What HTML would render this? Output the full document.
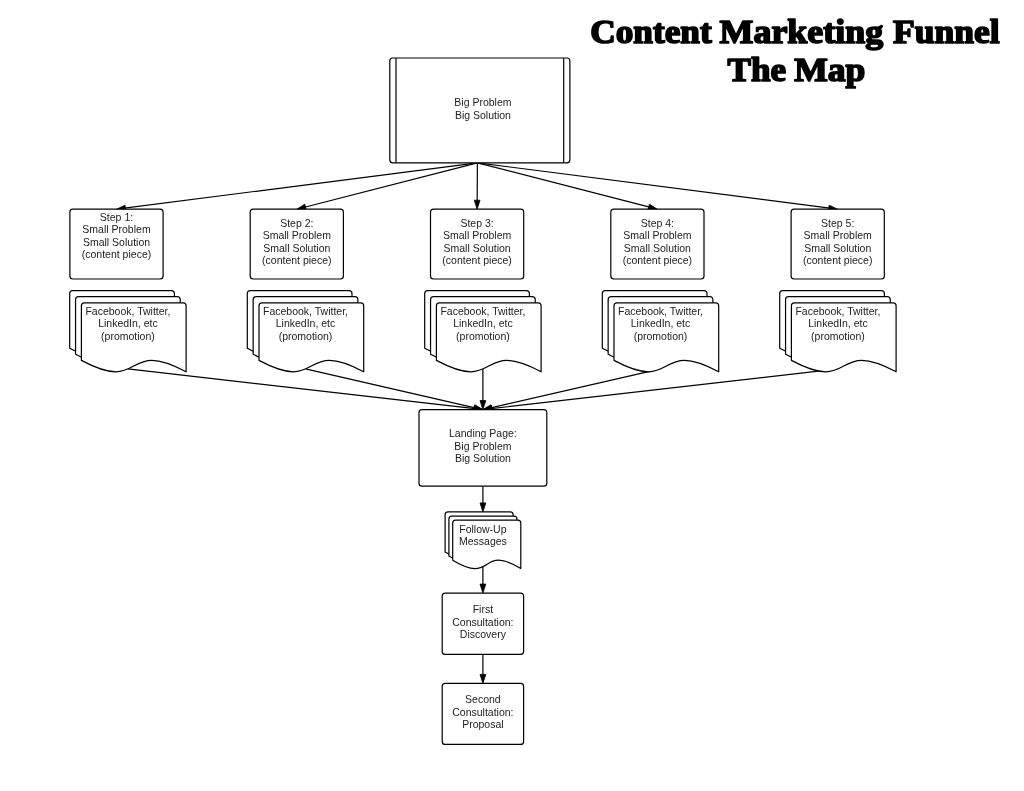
<!DOCTYPE html>
<html><head><meta charset="utf-8"><style>
html,body{margin:0;padding:0;background:#fff;width:1024px;height:791px;overflow:hidden}
svg{display:block;will-change:transform}
.t text{font-family:"Liberation Sans",sans-serif;font-size:10.5px;fill:#222}
.title{font-family:"Liberation Serif",serif;font-weight:bold;font-size:34px;fill:#000;stroke:#000;stroke-width:1.7px;stroke-linejoin:round}
</style></head><body>
<svg width="1024" height="791" viewBox="0 0 1024 791">
<g class="t">
<g>
<line x1="477.40" y1="162.80" x2="124.43" y2="208.18" stroke="#000" stroke-width="1.2"/>
<path d="M116.50,209.20 L125.06,205.18 L125.80,210.93 Z" fill="#000" stroke="#000" stroke-width="0.8" stroke-linejoin="miter"/>
<line x1="477.40" y1="162.80" x2="304.55" y2="207.21" stroke="#000" stroke-width="1.2"/>
<path d="M296.80,209.20 L304.80,204.15 L306.24,209.77 Z" fill="#000" stroke="#000" stroke-width="0.8" stroke-linejoin="miter"/>
<line x1="477.40" y1="162.80" x2="477.15" y2="201.20" stroke="#000" stroke-width="1.2"/>
<path d="M477.10,209.20 L474.26,200.18 L480.06,200.22 Z" fill="#000" stroke="#000" stroke-width="0.8" stroke-linejoin="miter"/>
<line x1="477.40" y1="162.80" x2="649.65" y2="207.20" stroke="#000" stroke-width="1.2"/>
<path d="M657.40,209.20 L647.96,209.76 L649.41,204.15 Z" fill="#000" stroke="#000" stroke-width="0.8" stroke-linejoin="miter"/>
<line x1="477.40" y1="162.80" x2="829.77" y2="208.18" stroke="#000" stroke-width="1.2"/>
<path d="M837.70,209.20 L828.40,210.93 L829.14,205.17 Z" fill="#000" stroke="#000" stroke-width="0.8" stroke-linejoin="miter"/>
<line x1="127.90" y1="368.80" x2="474.95" y2="408.69" stroke="#000" stroke-width="1.2"/>
<path d="M482.90,409.60 L473.63,411.45 L474.29,405.69 Z" fill="#000" stroke="#000" stroke-width="0.8" stroke-linejoin="miter"/>
<line x1="305.50" y1="368.80" x2="475.10" y2="407.81" stroke="#000" stroke-width="1.2"/>
<path d="M482.90,409.60 L473.48,410.41 L474.78,404.76 Z" fill="#000" stroke="#000" stroke-width="0.8" stroke-linejoin="miter"/>
<line x1="482.90" y1="368.80" x2="482.90" y2="401.60" stroke="#000" stroke-width="1.2"/>
<path d="M482.90,409.60 L480.00,400.60 L485.80,400.60 Z" fill="#000" stroke="#000" stroke-width="0.8" stroke-linejoin="miter"/>
<line x1="660.50" y1="368.80" x2="490.70" y2="407.81" stroke="#000" stroke-width="1.2"/>
<path d="M482.90,409.60 L491.02,404.76 L492.32,410.41 Z" fill="#000" stroke="#000" stroke-width="0.8" stroke-linejoin="miter"/>
<line x1="837.90" y1="368.80" x2="490.85" y2="408.69" stroke="#000" stroke-width="1.2"/>
<path d="M482.90,409.60 L491.51,405.69 L492.17,411.45 Z" fill="#000" stroke="#000" stroke-width="0.8" stroke-linejoin="miter"/>
<line x1="482.90" y1="486.20" x2="482.90" y2="503.90" stroke="#000" stroke-width="1.2"/>
<path d="M482.90,511.90 L480.00,502.90 L485.80,502.90 Z" fill="#000" stroke="#000" stroke-width="0.8" stroke-linejoin="miter"/>
<line x1="482.90" y1="566.80" x2="482.90" y2="585.10" stroke="#000" stroke-width="1.2"/>
<path d="M482.90,593.10 L480.00,584.10 L485.80,584.10 Z" fill="#000" stroke="#000" stroke-width="0.8" stroke-linejoin="miter"/>
<line x1="482.90" y1="654.40" x2="482.90" y2="675.40" stroke="#000" stroke-width="1.2"/>
<path d="M482.90,683.40 L480.00,674.40 L485.80,674.40 Z" fill="#000" stroke="#000" stroke-width="0.8" stroke-linejoin="miter"/>
</g>
<rect x="389.80" y="58.00" width="180.10" height="104.80" rx="3" ry="3" fill="#fff" stroke="#000" stroke-width="1.2"/>
<line x1="396.00" y1="58.00" x2="396.00" y2="162.80" stroke="#000" stroke-width="1.2"/>
<line x1="563.70" y1="58.00" x2="563.70" y2="162.80" stroke="#000" stroke-width="1.2"/>
<rect x="69.90" y="209.20" width="93.20" height="69.80" rx="3" ry="3" fill="#fff" stroke="#000" stroke-width="1.2"/>
<text x="116.50" y="220.90" text-anchor="middle">Step 1:</text>
<text x="116.50" y="233.40" text-anchor="middle">Small Problem</text>
<text x="116.50" y="245.90" text-anchor="middle">Small Solution</text>
<text x="116.50" y="258.40" text-anchor="middle">(content piece)</text>
<rect x="250.20" y="209.20" width="93.20" height="69.80" rx="3" ry="3" fill="#fff" stroke="#000" stroke-width="1.2"/>
<text x="296.80" y="226.80" text-anchor="middle">Step 2:</text>
<text x="296.80" y="239.30" text-anchor="middle">Small Problem</text>
<text x="296.80" y="251.80" text-anchor="middle">Small Solution</text>
<text x="296.80" y="264.30" text-anchor="middle">(content piece)</text>
<rect x="430.50" y="209.20" width="93.20" height="69.80" rx="3" ry="3" fill="#fff" stroke="#000" stroke-width="1.2"/>
<text x="477.10" y="226.80" text-anchor="middle">Step 3:</text>
<text x="477.10" y="239.30" text-anchor="middle">Small Problem</text>
<text x="477.10" y="251.80" text-anchor="middle">Small Solution</text>
<text x="477.10" y="264.30" text-anchor="middle">(content piece)</text>
<rect x="610.80" y="209.20" width="93.20" height="69.80" rx="3" ry="3" fill="#fff" stroke="#000" stroke-width="1.2"/>
<text x="657.40" y="226.80" text-anchor="middle">Step 4:</text>
<text x="657.40" y="239.30" text-anchor="middle">Small Problem</text>
<text x="657.40" y="251.80" text-anchor="middle">Small Solution</text>
<text x="657.40" y="264.30" text-anchor="middle">(content piece)</text>
<rect x="791.10" y="209.20" width="93.20" height="69.80" rx="3" ry="3" fill="#fff" stroke="#000" stroke-width="1.2"/>
<text x="837.70" y="226.80" text-anchor="middle">Step 5:</text>
<text x="837.70" y="239.30" text-anchor="middle">Small Problem</text>
<text x="837.70" y="251.80" text-anchor="middle">Small Solution</text>
<text x="837.70" y="264.30" text-anchor="middle">(content piece)</text>
<path d="M69.70,293.60 Q69.70,290.60 72.70,290.60 H171.40 Q174.40,290.60 174.40,293.60 V359.60 C110.32,325.40 133.78,382.40 69.70,348.20 Z" fill="#fff" stroke="#000" stroke-width="1.2" stroke-linejoin="round"/>
<path d="M75.55,299.70 Q75.55,296.70 78.55,296.70 H177.25 Q180.25,296.70 180.25,299.70 V365.70 C116.17,331.50 139.63,388.50 75.55,354.30 Z" fill="#fff" stroke="#000" stroke-width="1.2" stroke-linejoin="round"/>
<path d="M81.40,305.80 Q81.40,302.80 84.40,302.80 H183.10 Q186.10,302.80 186.10,305.80 V371.80 C122.02,337.60 145.48,394.60 81.40,360.40 Z" fill="#fff" stroke="#000" stroke-width="1.2" stroke-linejoin="round"/>
<text x="127.90" y="314.50" text-anchor="middle">Facebook, Twitter,</text>
<text x="127.90" y="327.10" text-anchor="middle">LinkedIn, etc</text>
<text x="127.90" y="339.70" text-anchor="middle">(promotion)</text>
<path d="M247.30,293.60 Q247.30,290.60 250.30,290.60 H349.00 Q352.00,290.60 352.00,293.60 V359.60 C287.92,325.40 311.38,382.40 247.30,348.20 Z" fill="#fff" stroke="#000" stroke-width="1.2" stroke-linejoin="round"/>
<path d="M253.15,299.70 Q253.15,296.70 256.15,296.70 H354.85 Q357.85,296.70 357.85,299.70 V365.70 C293.77,331.50 317.23,388.50 253.15,354.30 Z" fill="#fff" stroke="#000" stroke-width="1.2" stroke-linejoin="round"/>
<path d="M259.00,305.80 Q259.00,302.80 262.00,302.80 H360.70 Q363.70,302.80 363.70,305.80 V371.80 C299.62,337.60 323.08,394.60 259.00,360.40 Z" fill="#fff" stroke="#000" stroke-width="1.2" stroke-linejoin="round"/>
<text x="305.50" y="314.50" text-anchor="middle">Facebook, Twitter,</text>
<text x="305.50" y="327.10" text-anchor="middle">LinkedIn, etc</text>
<text x="305.50" y="339.70" text-anchor="middle">(promotion)</text>
<path d="M424.70,293.60 Q424.70,290.60 427.70,290.60 H526.40 Q529.40,290.60 529.40,293.60 V359.60 C465.32,325.40 488.78,382.40 424.70,348.20 Z" fill="#fff" stroke="#000" stroke-width="1.2" stroke-linejoin="round"/>
<path d="M430.55,299.70 Q430.55,296.70 433.55,296.70 H532.25 Q535.25,296.70 535.25,299.70 V365.70 C471.17,331.50 494.63,388.50 430.55,354.30 Z" fill="#fff" stroke="#000" stroke-width="1.2" stroke-linejoin="round"/>
<path d="M436.40,305.80 Q436.40,302.80 439.40,302.80 H538.10 Q541.10,302.80 541.10,305.80 V371.80 C477.02,337.60 500.48,394.60 436.40,360.40 Z" fill="#fff" stroke="#000" stroke-width="1.2" stroke-linejoin="round"/>
<text x="482.90" y="314.50" text-anchor="middle">Facebook, Twitter,</text>
<text x="482.90" y="327.10" text-anchor="middle">LinkedIn, etc</text>
<text x="482.90" y="339.70" text-anchor="middle">(promotion)</text>
<path d="M602.30,293.60 Q602.30,290.60 605.30,290.60 H704.00 Q707.00,290.60 707.00,293.60 V359.60 C642.92,325.40 666.38,382.40 602.30,348.20 Z" fill="#fff" stroke="#000" stroke-width="1.2" stroke-linejoin="round"/>
<path d="M608.15,299.70 Q608.15,296.70 611.15,296.70 H709.85 Q712.85,296.70 712.85,299.70 V365.70 C648.77,331.50 672.23,388.50 608.15,354.30 Z" fill="#fff" stroke="#000" stroke-width="1.2" stroke-linejoin="round"/>
<path d="M614.00,305.80 Q614.00,302.80 617.00,302.80 H715.70 Q718.70,302.80 718.70,305.80 V371.80 C654.62,337.60 678.08,394.60 614.00,360.40 Z" fill="#fff" stroke="#000" stroke-width="1.2" stroke-linejoin="round"/>
<text x="660.50" y="314.50" text-anchor="middle">Facebook, Twitter,</text>
<text x="660.50" y="327.10" text-anchor="middle">LinkedIn, etc</text>
<text x="660.50" y="339.70" text-anchor="middle">(promotion)</text>
<path d="M779.70,293.60 Q779.70,290.60 782.70,290.60 H881.40 Q884.40,290.60 884.40,293.60 V359.60 C820.32,325.40 843.78,382.40 779.70,348.20 Z" fill="#fff" stroke="#000" stroke-width="1.2" stroke-linejoin="round"/>
<path d="M785.55,299.70 Q785.55,296.70 788.55,296.70 H887.25 Q890.25,296.70 890.25,299.70 V365.70 C826.17,331.50 849.63,388.50 785.55,354.30 Z" fill="#fff" stroke="#000" stroke-width="1.2" stroke-linejoin="round"/>
<path d="M791.40,305.80 Q791.40,302.80 794.40,302.80 H893.10 Q896.10,302.80 896.10,305.80 V371.80 C832.02,337.60 855.48,394.60 791.40,360.40 Z" fill="#fff" stroke="#000" stroke-width="1.2" stroke-linejoin="round"/>
<text x="837.90" y="314.50" text-anchor="middle">Facebook, Twitter,</text>
<text x="837.90" y="327.10" text-anchor="middle">LinkedIn, etc</text>
<text x="837.90" y="339.70" text-anchor="middle">(promotion)</text>
<rect x="419.00" y="409.60" width="127.80" height="76.60" rx="3" ry="3" fill="#fff" stroke="#000" stroke-width="1.2"/>
<text x="482.90" y="437.40" text-anchor="middle">Landing Page:</text>
<text x="482.90" y="449.90" text-anchor="middle">Big Problem</text>
<text x="482.90" y="462.40" text-anchor="middle">Big Solution</text>
<path d="M445.10,514.90 Q445.10,511.90 448.10,511.90 H510.20 Q513.20,511.90 513.20,514.90 V560.30 C471.52,535.10 486.78,577.10 445.10,551.90 Z" fill="#fff" stroke="#000" stroke-width="1.2" stroke-linejoin="round"/>
<path d="M448.90,519.05 Q448.90,516.05 451.90,516.05 H514.00 Q517.00,516.05 517.00,519.05 V564.45 C475.32,539.25 490.58,581.25 448.90,556.05 Z" fill="#fff" stroke="#000" stroke-width="1.2" stroke-linejoin="round"/>
<path d="M452.70,523.20 Q452.70,520.20 455.70,520.20 H517.80 Q520.80,520.20 520.80,523.20 V568.60 C479.12,543.40 494.38,585.40 452.70,560.20 Z" fill="#fff" stroke="#000" stroke-width="1.2" stroke-linejoin="round"/>
<text x="482.90" y="532.80" text-anchor="middle">Follow-Up</text>
<text x="482.90" y="545.40" text-anchor="middle">Messages</text>
<rect x="442.20" y="593.10" width="81.40" height="61.30" rx="3" ry="3" fill="#fff" stroke="#000" stroke-width="1.2"/>
<text x="482.90" y="613.00" text-anchor="middle">First</text>
<text x="482.90" y="625.60" text-anchor="middle">Consultation:</text>
<text x="482.90" y="638.20" text-anchor="middle">Discovery</text>
<rect x="442.20" y="683.40" width="81.40" height="61.00" rx="3" ry="3" fill="#fff" stroke="#000" stroke-width="1.2"/>
<text x="482.90" y="703.00" text-anchor="middle">Second</text>
<text x="482.90" y="715.60" text-anchor="middle">Consultation:</text>
<text x="482.90" y="728.20" text-anchor="middle">Proposal</text>
<text x="482.90" y="105.60" text-anchor="middle">Big Problem</text>
<text x="482.90" y="118.50" text-anchor="middle">Big Solution</text>
</g>
<text class="title" x="590.2" y="42.6" textLength="121.5" lengthAdjust="spacingAndGlyphs">Content</text>
<text class="title" x="719.6" y="42.6" textLength="163.5" lengthAdjust="spacingAndGlyphs">Marketing</text>
<text class="title" x="893.0" y="42.6" textLength="106.5" lengthAdjust="spacingAndGlyphs">Funnel</text>
<text class="title" x="727.6" y="80.6" textLength="58.5" lengthAdjust="spacingAndGlyphs">The</text>
<text class="title" x="794.2" y="80.6" textLength="71.2" lengthAdjust="spacingAndGlyphs">Map</text>
</svg>
</body></html>
